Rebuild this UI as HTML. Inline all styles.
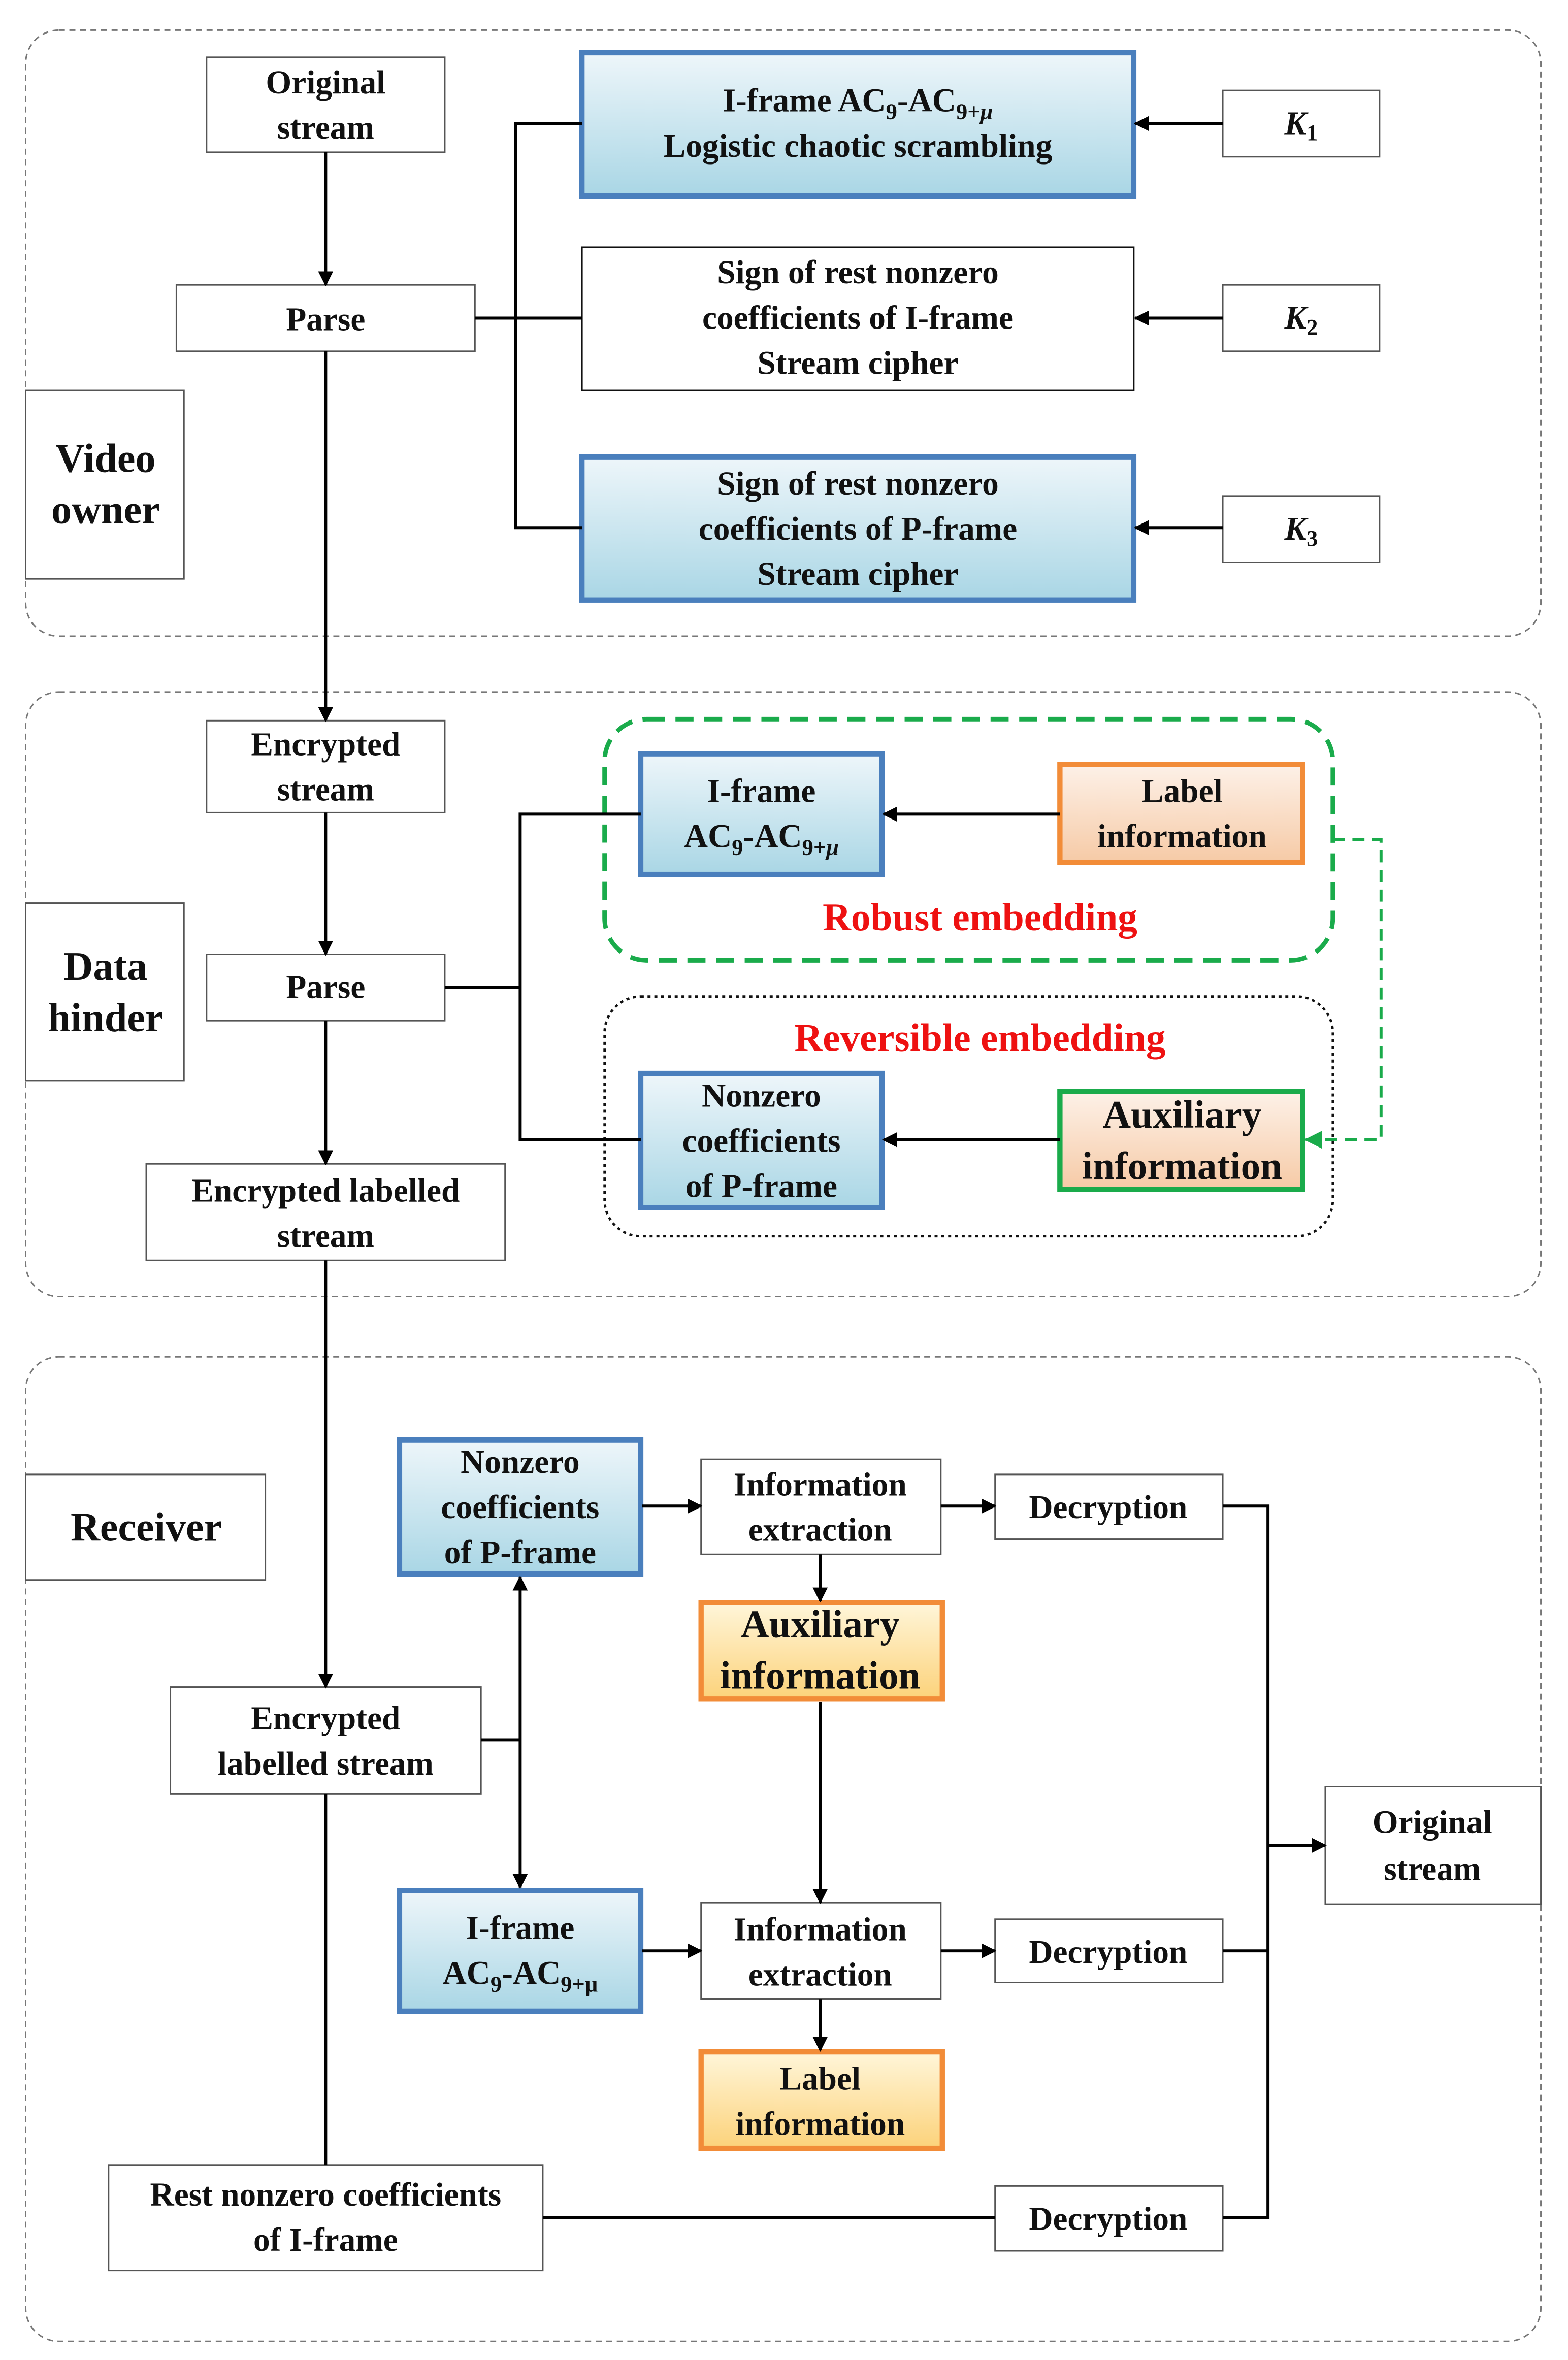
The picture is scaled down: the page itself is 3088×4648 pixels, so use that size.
<!DOCTYPE html>
<html><head><meta charset="utf-8"><style>
html,body{margin:0;padding:0;background:#fff}
svg{display:block}
text{font-family:"Liberation Serif",serif;font-weight:bold;fill:#111}
</style></head><body>
<svg width="3088" height="4648" viewBox="0 0 1040 1565.4" xmlns="http://www.w3.org/2000/svg">
<defs>
<linearGradient id="bl" x1="0" y1="0" x2="0" y2="1"><stop offset="0" stop-color="#eef6fa"/><stop offset="1" stop-color="#a9d6e5"/></linearGradient>
<linearGradient id="or" x1="0" y1="0" x2="0" y2="1"><stop offset="0" stop-color="#fdf1e8"/><stop offset="1" stop-color="#f6caa6"/></linearGradient>
<linearGradient id="ye" x1="0" y1="0" x2="0" y2="1"><stop offset="0" stop-color="#fff6da"/><stop offset="1" stop-color="#fcd27a"/></linearGradient>
<marker id="a" markerWidth="10" markerHeight="10" refX="9" refY="5" orient="auto" markerUnits="userSpaceOnUse"><path d="M0,0 L10,5 L0,10 Z" fill="#000"/></marker>
<marker id="as" markerWidth="10" markerHeight="10" refX="1" refY="5" orient="auto" markerUnits="userSpaceOnUse"><path d="M10,0 L0,5 L10,10 Z" fill="#000"/></marker>
<marker id="ag" markerWidth="12" markerHeight="12" refX="11" refY="6" orient="auto" markerUnits="userSpaceOnUse"><path d="M0,0 L12,6 L0,12 Z" fill="#1aab4b"/></marker>
</defs>
<g fill="none" stroke="#777" stroke-width="1" stroke-dasharray="4,3">
<rect x="17" y="20" width="1005" height="402" rx="22"/>
<rect x="17" y="459" width="1005" height="401" rx="22"/>
<rect x="17" y="900" width="1005" height="653" rx="22"/>
</g>
<g stroke="#555" stroke-width="1" fill="#fff">
<rect x="17" y="259" width="105" height="125"/>
<rect x="137" y="38" width="158" height="63"/>
<rect x="117" y="189" width="198" height="44"/>
<rect x="386" y="164" width="366" height="95" stroke="#111"/>
<rect x="811" y="60" width="104" height="44"/>
<rect x="811" y="189" width="104" height="44"/>
<rect x="811" y="329" width="104" height="44"/>
<rect x="137" y="478" width="158" height="61"/>
<rect x="17" y="599" width="105" height="118"/>
<rect x="137" y="633" width="158" height="44"/>
<rect x="97" y="772" width="238" height="64"/>
<rect x="113" y="1119" width="206" height="71"/>
<rect x="17" y="978" width="159" height="70"/>
<rect x="465" y="968" width="159" height="63"/>
<rect x="660" y="978" width="151" height="43"/>
<rect x="465" y="1262" width="159" height="64"/>
<rect x="660" y="1273" width="151" height="42"/>
<rect x="72" y="1436" width="288" height="70"/>
<rect x="660" y="1450" width="151" height="43"/>
<rect x="879" y="1185" width="143" height="78"/>
</g>
<g stroke="#4a7fbd" stroke-width="3.5" fill="url(#bl)">
<rect x="386" y="35" width="366" height="95"/>
<rect x="386" y="303" width="366" height="95"/>
<rect x="425" y="500" width="160" height="80"/>
<rect x="425" y="712" width="160" height="89"/>
<rect x="265" y="955" width="160" height="89"/>
<rect x="265" y="1254" width="160" height="80"/>
</g>
<rect x="703" y="507" width="161" height="65" fill="url(#or)" stroke="#f28c38" stroke-width="3.5"/>
<rect x="703" y="724" width="161" height="65" fill="url(#or)" stroke="#1aab4b" stroke-width="3.5"/>
<rect x="465" y="1063" width="160" height="64" fill="url(#ye)" stroke="#f28c38" stroke-width="3.5"/>
<rect x="465" y="1361" width="160" height="64" fill="url(#ye)" stroke="#f28c38" stroke-width="3.5"/>
<rect x="401" y="477" width="483" height="160" rx="28" fill="none" stroke="#1aab4b" stroke-width="3" stroke-dasharray="12,7"/>
<rect x="401" y="661" width="483" height="159" rx="24" fill="none" stroke="#111" stroke-width="1.6" stroke-dasharray="2,2.5"/>
<polyline points="884,557 916,557 916,756 866,756" fill="none" stroke="#1aab4b" stroke-width="2" stroke-dasharray="8,5" marker-end="url(#ag)"/>
<g stroke="#000" stroke-width="2" fill="none">
<line x1="216" y1="101" x2="216" y2="189" marker-end="url(#a)"/>
<polyline points="315,211 342,211"/>
<polyline points="386,82 342,82 342,350 386,350"/>
<line x1="342" y1="211" x2="386" y2="211"/>
<line x1="811" y1="82" x2="753" y2="82" marker-end="url(#a)"/>
<line x1="811" y1="211" x2="753" y2="211" marker-end="url(#a)"/>
<line x1="811" y1="350" x2="753" y2="350" marker-end="url(#a)"/>
<line x1="216" y1="233" x2="216" y2="478" marker-end="url(#a)"/>
<line x1="216" y1="539" x2="216" y2="633" marker-end="url(#a)"/>
<line x1="216" y1="677" x2="216" y2="772" marker-end="url(#a)"/>
<polyline points="295,655 345,655"/>
<polyline points="425,540 345,540 345,756 425,756"/>
<line x1="703" y1="540" x2="586" y2="540" marker-end="url(#a)"/>
<line x1="703" y1="756" x2="586" y2="756" marker-end="url(#a)"/>
<line x1="216" y1="836" x2="216" y2="1119" marker-end="url(#a)"/>
<line x1="345" y1="1046" x2="345" y2="1252" marker-start="url(#as)" marker-end="url(#a)"/>
<line x1="319" y1="1154" x2="345" y2="1154"/>
<line x1="426" y1="999" x2="465" y2="999" marker-end="url(#a)"/>
<line x1="624" y1="999" x2="660" y2="999" marker-end="url(#a)"/>
<line x1="544" y1="1031" x2="544" y2="1062" marker-end="url(#a)"/>
<line x1="544" y1="1129" x2="544" y2="1262" marker-end="url(#a)"/>
<line x1="426" y1="1294" x2="465" y2="1294" marker-end="url(#a)"/>
<line x1="624" y1="1294" x2="660" y2="1294" marker-end="url(#a)"/>
<line x1="544" y1="1326" x2="544" y2="1360" marker-end="url(#a)"/>
<line x1="216" y1="1190" x2="216" y2="1436"/>
<line x1="360" y1="1471" x2="660" y2="1471"/>
<polyline points="811,999 841,999 841,1471 811,1471"/>
<line x1="811" y1="1294" x2="841" y2="1294"/>
<line x1="841" y1="1224" x2="879" y2="1224" marker-end="url(#a)"/>
</g>
<g text-anchor="middle" font-size="22">
<text x="216" y="62">Original</text><text x="216" y="92">stream</text>
<text x="216" y="219">Parse</text>
<text x="569" y="74">I-frame AC<tspan font-size="15" dy="5">9</tspan><tspan dy="-5">-AC</tspan><tspan font-size="15" dy="5">9+<tspan font-style="italic">μ</tspan></tspan></text>
<text x="569" y="104">Logistic  chaotic scrambling</text>
<text x="569" y="188">Sign of rest nonzero</text><text x="569" y="218">coefficients of I-frame</text><text x="569" y="248">Stream cipher</text>
<text x="569" y="328">Sign of rest nonzero</text><text x="569" y="358">coefficients of P-frame</text><text x="569" y="388">Stream cipher</text>
<text x="863" y="89" font-style="italic">K<tspan font-size="15" dy="4" font-style="normal">1</tspan></text>
<text x="863" y="218" font-style="italic">K<tspan font-size="15" dy="4" font-style="normal">2</tspan></text>
<text x="863" y="358" font-style="italic">K<tspan font-size="15" dy="4" font-style="normal">3</tspan></text>
<text x="70" y="313" font-size="27">Video</text><text x="70" y="347" font-size="27">owner</text>
<text x="216" y="501">Encrypted</text><text x="216" y="531">stream</text>
<text x="216" y="662">Parse</text>
<text x="70" y="650" font-size="27">Data</text><text x="70" y="684" font-size="27">hinder</text>
<text x="216" y="797">Encrypted labelled</text><text x="216" y="827">stream</text>
<text x="505" y="532">I-frame</text>
<text x="505" y="562">AC<tspan font-size="15" dy="5">9</tspan><tspan dy="-5">-AC</tspan><tspan font-size="15" dy="5">9+<tspan font-style="italic">μ</tspan></tspan></text>
<text x="784" y="532">Label</text><text x="784" y="562">information</text>
<text x="650" y="617" font-size="26" fill="#ee1111" style="fill:#ee1111">Robust embedding</text>
<text x="650" y="697" font-size="26" style="fill:#ee1111">Reversible embedding</text>
<text x="505" y="734">Nonzero</text><text x="505" y="764">coefficients</text><text x="505" y="794">of P-frame</text>
<text x="784" y="748" font-size="26">Auxiliary</text><text x="784" y="782" font-size="26">information</text>
<text x="97" y="1022" font-size="27">Receiver</text>
<text x="345" y="977">Nonzero</text><text x="345" y="1007">coefficients</text><text x="345" y="1037">of P-frame</text>
<text x="544" y="992">Information</text><text x="544" y="1022">extraction</text>
<text x="735" y="1007">Decryption</text>
<text x="544" y="1086" font-size="26">Auxiliary</text><text x="544" y="1120" font-size="26">information</text>
<text x="216" y="1147">Encrypted</text><text x="216" y="1177">labelled stream</text>
<text x="950" y="1216">Original</text><text x="950" y="1247">stream</text>
<text x="345" y="1286">I-frame</text>
<text x="345" y="1316">AC<tspan font-size="15" dy="5">9</tspan><tspan dy="-5">-AC</tspan><tspan font-size="15" dy="5">9+μ</tspan></text>
<text x="544" y="1287">Information</text><text x="544" y="1317">extraction</text>
<text x="735" y="1302">Decryption</text>
<text x="544" y="1386">Label</text><text x="544" y="1416">information</text>
<text x="216" y="1463">Rest nonzero coefficients</text><text x="216" y="1493">of I-frame</text>
<text x="735" y="1479">Decryption</text>
</g>
</svg>
</body></html>
